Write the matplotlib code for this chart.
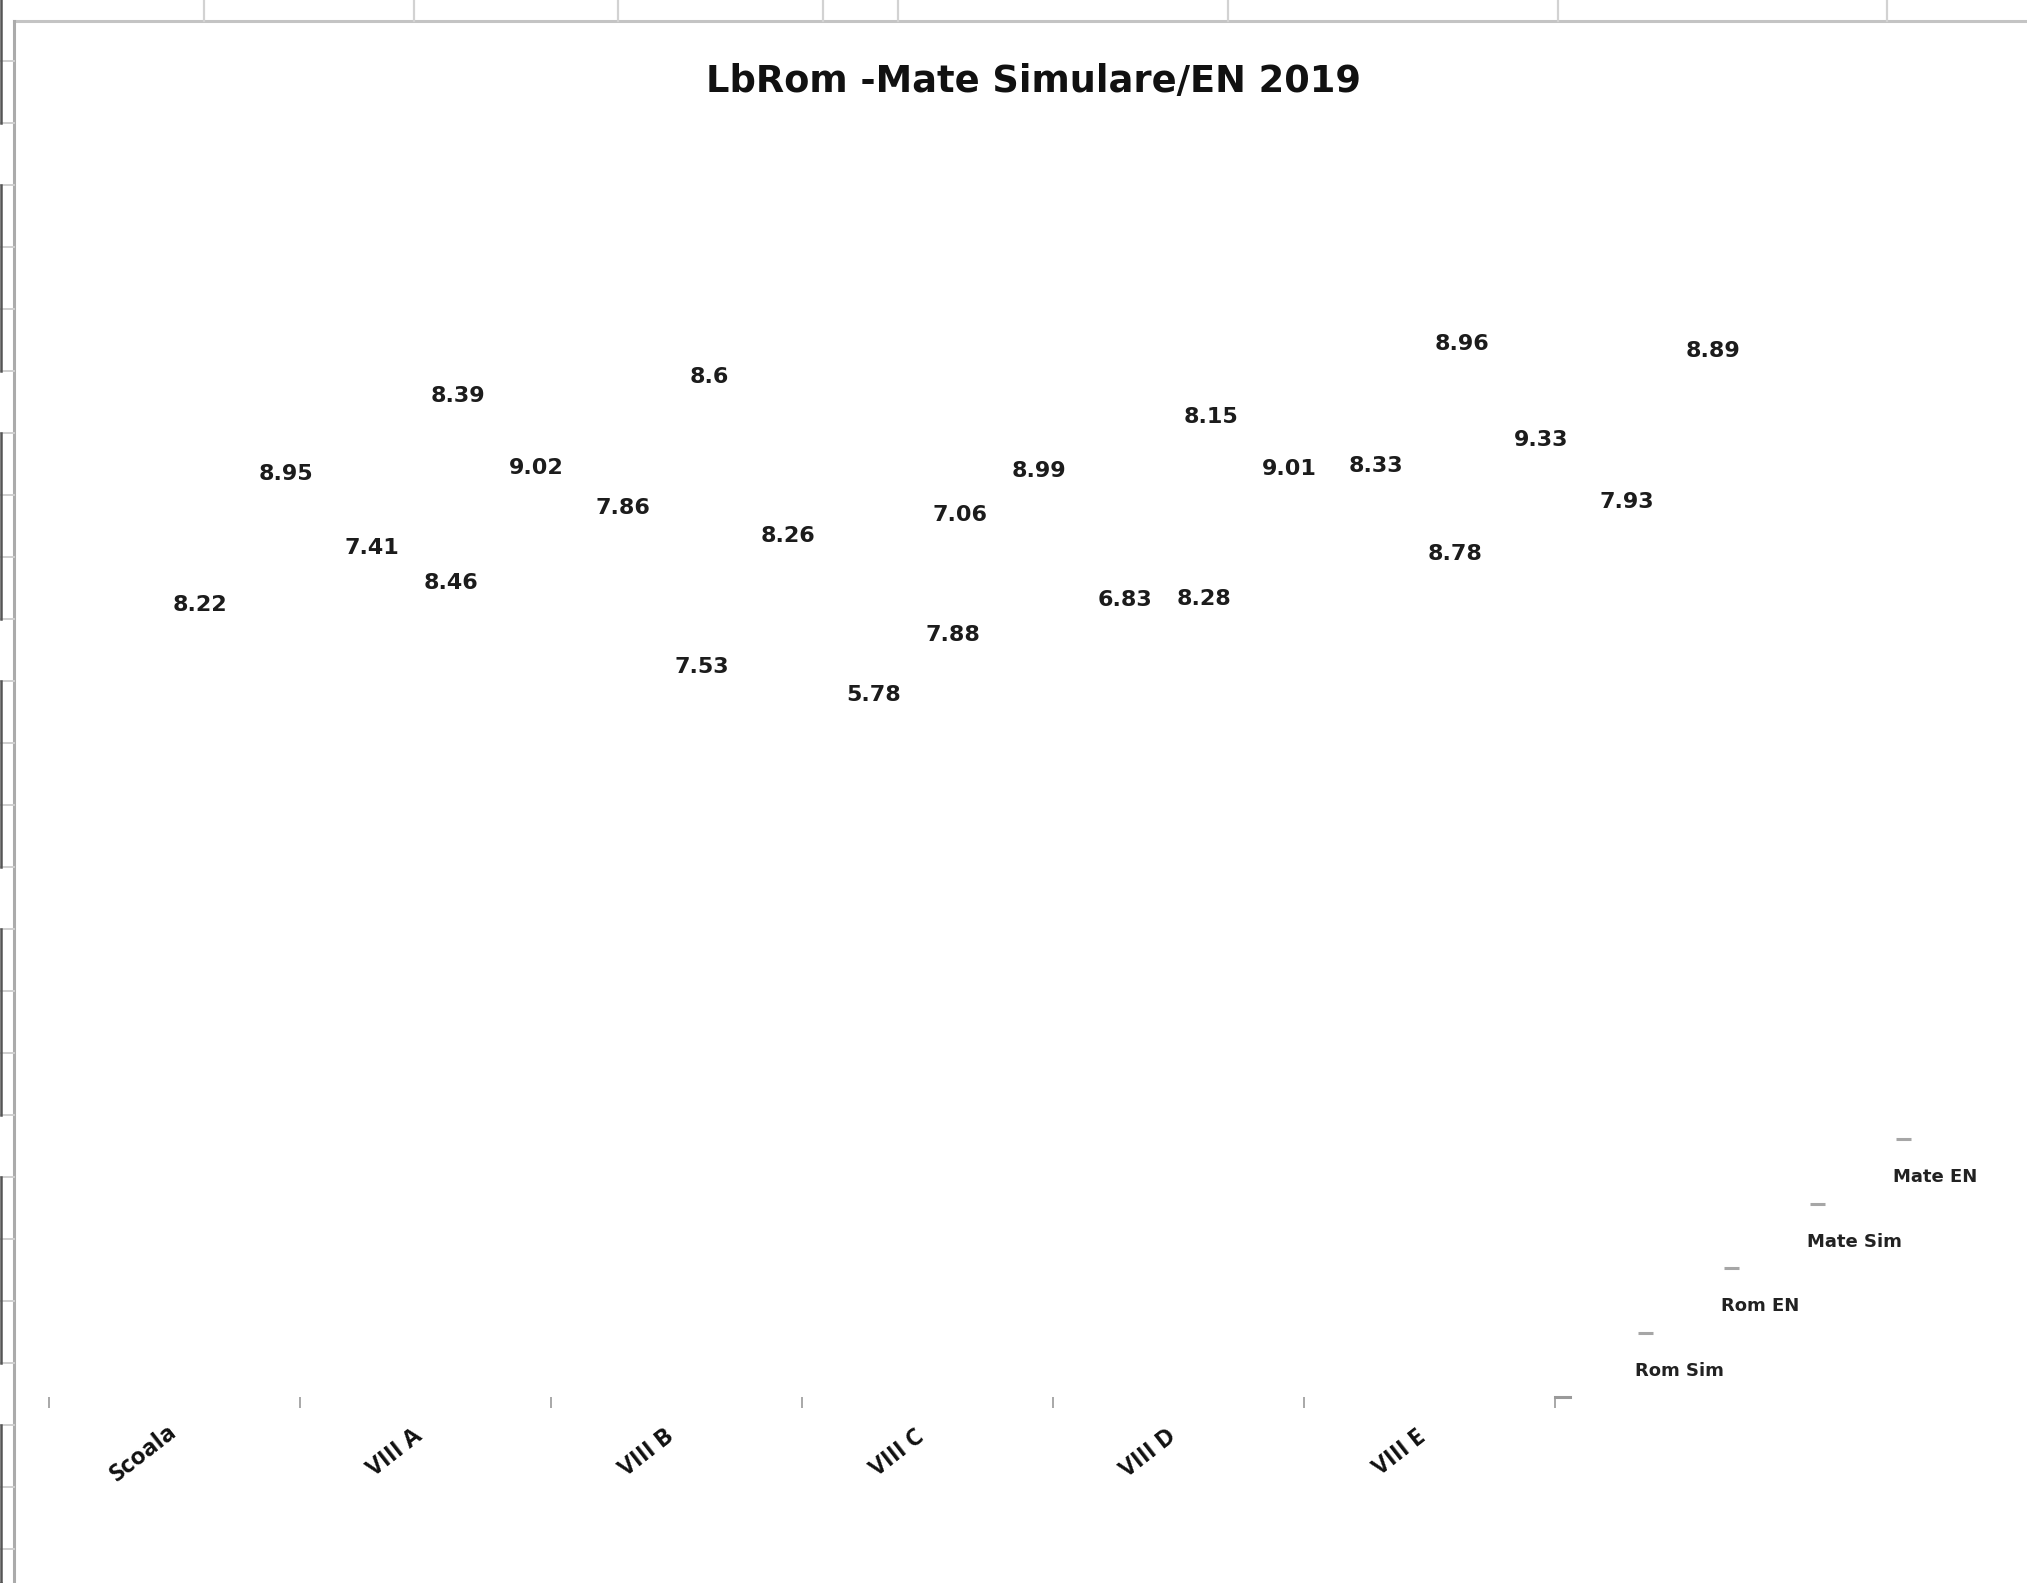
import numpy as np
import matplotlib.pyplot as plt
from matplotlib.lines import Line2D

# ======================== DATA ========================
categories = ["Scoala", "VIII A", "VIII B", "VIII C", "VIII D", "VIII E"]
series_names = ["Rom Sim", "Rom EN", "Mate Sim", "Mate EN"]
rom_sim = [8.22, 8.46, 7.53, 7.88, 8.28, 8.78]
rom_en = [8.95, 9.02, 8.26, 8.99, 9.01, 9.33]
mate_sim = [7.41, 7.86, 5.78, 6.83, 8.33, 7.93]
mate_en = [8.39, 8.6, 7.06, 8.15, 8.96, 8.89]
chart_title = "LbRom -Mate Simulare/EN 2019"

series_values = [rom_sim, rom_en, mate_sim, mate_en]

# ======================== LAYOUT ========================
W, H = 2027, 1583
fig = plt.figure(figsize=(W / 100, H / 100), dpi=100)
fig.patch.set_facecolor("white")

# pixel helpers for the spreadsheet frame around the chart
def fx(px):
    return px / W

def fy(py):
    return 1 - py / H

# axes placed so that category ticks land where the sheet has them
ax_left, ax_right, ax_top, ax_bottom = 49, 2010, 22, 1397
ax = fig.add_axes([fx(ax_left), fy(ax_bottom), (ax_right - ax_left) / W, (ax_bottom - ax_top) / H])
ax.patch.set_visible(False)
cat_px = 251.0
ax.set_xlim(0, (ax_right - ax_left) / cat_px)
ax.set_ylim(-0.598, 14.705)
for sp in ax.spines.values():
    sp.set_visible(False)
ax.yaxis.set_visible(False)
ax.set_xticks(range(len(categories) + 1))
ax.set_xticklabels([])
ax.tick_params(axis="x", direction="out", length=8, width=1.2, color="#9a9a9a")

# small stub at the end of the category axis
ax.plot([len(categories), len(categories) + 0.06], [0, 0], color="#9a9a9a", lw=2.2,
        transform=ax.get_xaxis_transform(), clip_on=False)

# category labels (rotated)
for i, cat in enumerate(categories):
    ax.text(i + 0.38, -0.041, cat, transform=ax.get_xaxis_transform(),
            rotation=38, rotation_mode="anchor", ha="center", va="center",
            family="Open Sans", fontweight="bold", fontsize=17.5, color="#111111")

# 3D depth offset per series (oblique projection of the column chart)
depth_dx = 0.343
depth_dy = 0.719
label_shift = 0.60

for s, vals in enumerate(series_values):
    for i, v in enumerate(vals):
        ax.text(i + label_shift + depth_dx * s, v + depth_dy * s, f"{v:g}",
                ha="center", va="center", family="DejaVu Sans", fontweight="bold",
                fontsize=16, color="#1c1c1c", clip_on=False)

# staircase legend
leg_x0, leg_y0 = 6.359, 0.115
for s, name in enumerate(series_names):
    lx = leg_x0 + depth_dx * s
    ly = leg_y0 + depth_dy * s
    ax.plot([lx], [ly], marker="_", ms=10.8, mew=2.2, color="#a6a6a6", clip_on=False)
    ax.annotate(name, (lx, ly), xytext=(-10, -38), textcoords="offset pixels",
                ha="left", va="center", family="DejaVu Sans", fontweight="bold",
                fontsize=13, color="#222222", annotation_clip=False)

# title
fig.text(fx(1034), fy(81), chart_title, ha="center", va="center",
         family="DejaVu Sans", fontweight="bold", fontsize=26.5, color="#111111")

# ======================== SPREADSHEET FRAME ========================
grid_col = "#c4c4c4"
fig.add_artist(Line2D([fx(14), fx(W)], [fy(21), fy(21)], color=grid_col, lw=2.2))
fig.add_artist(Line2D([fx(14), fx(14)], [fy(21), fy(H)], color="#ababab", lw=2.2))
for cx in [204, 414, 618, 823, 898, 1228, 1558, 1887]:
    fig.add_artist(Line2D([fx(cx), fx(cx)], [fy(0), fy(21)], color="#d2d2d2", lw=1.6))

row_step = 62.0
row_first = 60.6
for k in range(-2, 27):
    ry = row_first + row_step * k
    if 21 < ry < H:
        fig.add_artist(Line2D([fx(0), fx(14)], [fy(ry), fy(ry)], color="#cfcfcf", lw=1.4))
for m in range(-1, 7):
    y_a = row_first + row_step * (4 * m + 2)
    y_b = row_first + row_step * (4 * m + 5)
    fig.add_artist(Line2D([fx(1), fx(1)], [fy(max(y_a, 0)), fy(min(y_b, H))], color="#555555", lw=1.8))

plt.savefig("out.png", dpi=100, facecolor=fig.get_facecolor())
